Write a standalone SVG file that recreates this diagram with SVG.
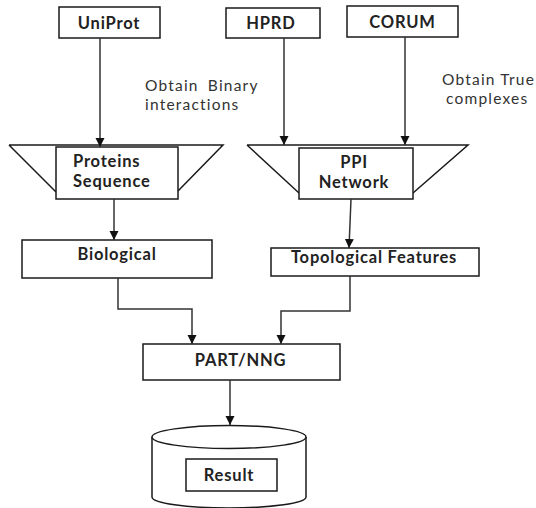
<svg xmlns="http://www.w3.org/2000/svg" width="536" height="508" viewBox="0 0 536 508">
<defs>
<style>
.box{fill:#fff;stroke:#1a1a1a;stroke-width:1.5}
.shape{fill:none;stroke:#1a1a1a;stroke-width:1.5}
.lbl{font-family:Lato,"Liberation Sans",sans-serif;font-weight:bold;font-size:16.5px;letter-spacing:0.8px;fill:#222}
.note{font-family:Lato,"Liberation Sans",sans-serif;font-size:15.5px;letter-spacing:1.2px;fill:#333}
.conn{fill:none;stroke:#333;stroke-width:1.5;marker-end:url(#arr)}
</style>
<marker id="arr" viewBox="0 0 10 10" refX="10" refY="5" markerWidth="9" markerHeight="10" markerUnits="userSpaceOnUse" orient="auto">
<path d="M0,0L10,5L0,10z" fill="#111"/>
</marker>
</defs>
<rect width="536" height="508" fill="#fff"/>
<g id="uniprot"><rect class="box" x="59" y="7" width="101" height="31"/><text class="lbl" x="109" y="29" text-anchor="middle">UniProt</text></g>
<g id="hprd"><rect class="box" x="226" y="8" width="94" height="30"/><text class="lbl" x="271" y="29" text-anchor="middle">HPRD</text></g>
<g id="corum"><rect class="box" x="347" y="6" width="111" height="31"/><text class="lbl" x="402.5" y="28" text-anchor="middle">CORUM</text></g>
<g id="note-binary"><text class="note" x="145" y="91" word-spacing="4">Obtain Binary</text><text class="note" x="145" y="110">interactions</text></g>
<g id="note-true"><text class="note" x="442" y="85">Obtain True</text><text class="note" x="446" y="104">complexes</text></g>
<g id="proteins-sequence">
<path class="shape" d="M9,145H223L178,191M56,192L9,145"/>
<rect class="box" x="56" y="147" width="122" height="52"/>
<text class="lbl" x="73" y="167">Proteins</text><text class="lbl" x="73" y="187">Sequence</text>
</g>
<g id="ppi-network">
<path class="shape" d="M247,145H468L413,193M299,193L247,145"/>
<rect class="box" x="299" y="148" width="114" height="51"/>
<text class="lbl" x="354" y="168" text-anchor="middle">PPI</text><text class="lbl" x="354" y="188" text-anchor="middle">Network</text>
</g>
<g id="biological"><rect class="box" x="22" y="240" width="190" height="38"/><text class="lbl" x="117" y="260" text-anchor="middle">Biological</text></g>
<g id="topological"><rect class="box" x="271" y="248" width="208" height="28"/><text class="lbl" x="374" y="263" text-anchor="middle" letter-spacing="1">Topological Features</text></g>
<g id="part-nng"><rect class="box" x="143" y="344" width="197" height="36"/><text class="lbl" x="240.5" y="366" text-anchor="middle">PART/NNG</text></g>
<g id="result">
<path class="box" d="M152,437V497A77,11 0 0 0 306,497V437"/>
<ellipse class="box" cx="229" cy="437" rx="77" ry="11.5"/>
<rect class="box" x="186" y="459" width="91" height="32"/>
<text class="lbl" x="229" y="481" text-anchor="middle">Result</text>
</g>
<g id="connectors">
<path class="conn" d="M100,38V147"/>
<path class="conn" d="M284,38V145"/>
<path class="conn" d="M405,37V145"/>
<path class="conn" d="M114,199V240"/>
<path class="conn" d="M351,199L349,248"/>
<path class="conn" d="M118,278V309H192V344"/>
<path class="conn" d="M350,276V311H281V344"/>
<path class="conn" d="M230,380V425"/>
</g>
</svg>
